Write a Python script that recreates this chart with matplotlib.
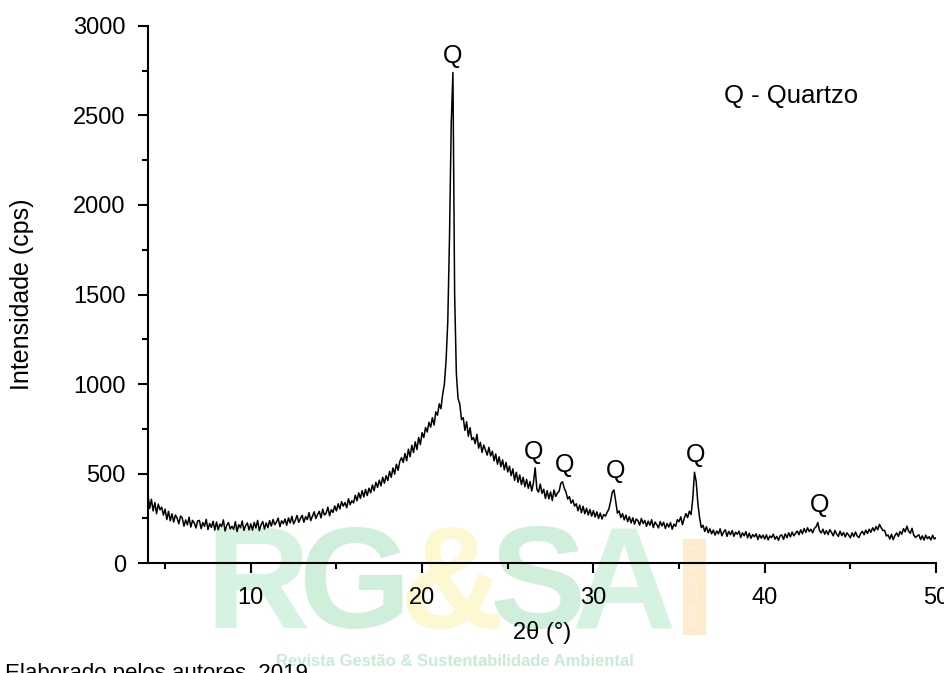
import numpy as np
import matplotlib
matplotlib.use("Agg")
import matplotlib.pyplot as plt
from matplotlib.ticker import MultipleLocator

plt.rcParams['font.family'] = ['Liberation Sans', 'DejaVu Sans']

# XRD intensity, 0.1 deg steps from 4.0 to 50.0
intensity = [
    382, 305, 356, 291, 338, 276, 329, 298, 312, 268,   # 4
    301, 243, 289, 236, 275, 229, 268, 251, 219, 262,   # 5
    252, 206, 241, 213, 256, 201, 238, 224, 196, 235,   # 6
    238, 192, 226, 205, 244, 187, 221, 199, 233, 184,   # 7
    229, 186, 218, 203, 241, 179, 212, 226, 191, 205,   # 8
    188, 231, 176, 214, 197, 235, 182, 209, 224, 185,   # 9
    219, 184, 227, 196, 238, 181, 213, 232, 190, 224,   # 10
    198, 237, 206, 243, 214, 229, 251, 203, 236, 221,   # 11
    246, 211, 252, 224, 261, 219, 238, 266, 227, 249,   # 12
    266, 228, 259, 243, 281, 237, 262, 286, 249, 271,   # 13
    289, 252, 301, 268, 279, 312, 264, 298, 283, 319,   # 14
    291, 331, 302, 343, 318, 338, 309, 359, 326, 348,   # 15
    336, 379, 348, 392, 361, 404, 369, 411, 377, 418,   # 16
    392, 436, 404, 451, 423, 463, 431, 479, 446, 488,   # 17
    461, 512, 479, 531, 497, 552, 518, 568, 589, 562,   # 18
    612, 571, 636, 594, 658, 617, 677, 634, 701, 662,   # 19
    728, 701, 757, 732, 786, 759, 812, 771, 844, 826,   # 20
    889, 862, 941, 998, 1130, 1350, 1820, 2450, 2740, 1500,  # 21
    1060, 918, 889, 801, 812, 741, 789, 708, 756, 689,  # 22
    701, 667, 719, 642, 674, 618, 659, 631, 603, 646,   # 23
    598, 624, 571, 609, 552, 593, 538, 576, 521, 562,   # 24
    509, 541, 488, 526, 462, 507, 451, 492, 438, 479,   # 25
    426, 468, 417, 455, 402, 449, 532, 412, 396, 441,   # 26
    389, 412, 361, 404, 358, 397, 349, 408, 372, 391,   # 27
    401, 446, 454, 418, 396, 358, 371, 334, 352, 318,   # 28
    331, 292, 324, 281, 317, 275, 306, 268, 299, 262,   # 29
    293, 257, 286, 249, 279, 246, 271, 262, 283, 301,   # 30
    342, 395, 408, 346, 279, 291, 254, 276, 241, 268,   # 31
    231, 259, 224, 253, 217, 246, 236, 212, 249, 221,   # 32
    238, 205, 234, 211, 242, 198, 229, 214, 196, 232,   # 33
    207, 228, 193, 221, 201, 226, 189, 217, 205, 242,   # 34
    231, 258, 214, 249, 276, 254, 289, 271, 358, 507,   # 35
    455, 331, 252, 198, 211, 176, 203, 169, 191, 163,   # 36
    184, 156, 179, 163, 191, 152, 173, 186, 149, 177,   # 37
    158, 181, 149, 172, 161, 178, 143, 169, 152, 175,   # 38
    141, 166, 138, 159, 147, 163, 131, 158, 139, 156,   # 39
    134, 158, 129, 151, 142, 161, 133, 149, 127, 153,   # 40
    157, 132, 163, 141, 169, 146, 173, 152, 166, 179,   # 41
    158, 186, 163, 193, 171, 197, 176, 189, 169, 194,   # 42
    203, 226, 181, 168, 189, 161, 181, 159, 186, 171,   # 43
    152, 182, 161, 149, 178, 153, 171, 146, 169, 156,   # 44
    141, 169, 148, 173, 151, 142, 166, 177, 158, 184,   # 45
    165, 189, 172, 197, 179, 204, 186, 216, 197, 181,   # 46
    183, 151, 157, 134, 161, 131, 153, 168, 149, 176,   # 47
    161, 192, 174, 206, 178, 166, 194, 156, 143, 151,   # 48
    158, 131, 152, 128, 156, 136, 147, 129, 155, 134,   # 49
    141,                                                # 50
]
two_theta = np.linspace(4.0, 50.0, len(intensity))

# quartz peak labels
q_pos = [21.8, 26.5, 28.3, 31.3, 35.95, 43.2]
q_height = [2830, 620, 548, 515, 604, 325]

fig = plt.figure(figsize=(9.45, 6.73), dpi=100)
ax = fig.add_axes([0.1566, 0.1634, 0.8339, 0.798])
ax.patch.set_facecolor('none')

# watermark behind the plot
fig.text(0.272, 0.122, 'R', fontsize=104, fontweight='bold', color='#d6f2e1',
         ha='center', va='center', zorder=-2)
fig.text(0.375, 0.122, 'G', fontsize=104, fontweight='bold', color='#cfefdb',
         ha='center', va='center', zorder=-2)
fig.text(0.478, 0.122, '&', fontsize=104, fontweight='bold', color='#fdf8d2',
         ha='center', va='center', zorder=-2)
fig.text(0.569, 0.122, 'S', fontsize=104, fontweight='bold', color='#cfefdb',
         ha='center', va='center', zorder=-2)
fig.text(0.66, 0.122, 'A', fontsize=104, fontweight='bold', color='#d6f2e1',
         ha='center', va='center', zorder=-2)
fig.text(0.735, 0.128, 'ISSN 2238-8753', fontsize=8, fontweight='bold', color='#fbf3e3',
         rotation=90, ha='center', va='center', zorder=-2,
         bbox=dict(facecolor='#fdebcc', edgecolor='none', pad=5))
fig.text(0.481, 0.017, 'Revista Gestão & Sustentabilidade Ambiental', fontsize=12,
         fontweight='bold', color='#c9ebd5', ha='center', va='center', zorder=-2)

ax.plot(two_theta, intensity, color='black', lw=1.1)

for xq, yq in zip(q_pos, q_height):
    ax.text(xq, yq, 'Q', fontsize=18, ha='center', va='center')
ax.text(37.6, 2610, 'Q - Quartzo', fontsize=18.5, ha='left', va='center')

ax.set_xlim(4, 50)
ax.set_ylim(0, 3000)
ax.xaxis.set_major_locator(MultipleLocator(10))
ax.xaxis.set_minor_locator(MultipleLocator(5))
ax.yaxis.set_major_locator(MultipleLocator(500))
ax.yaxis.set_minor_locator(MultipleLocator(250))
ax.tick_params(which='major', direction='out', length=7, width=1.5, labelsize=17)
ax.tick_params(axis='x', which='major', pad=10)
ax.tick_params(axis='y', which='major', pad=9)
ax.tick_params(which='minor', direction='out', length=4, width=1.5)
for side in ['top', 'right']:
    ax.spines[side].set_visible(False)
for side in ['left', 'bottom']:
    ax.spines[side].set_linewidth(1.5)

ax.set_xlabel('2θ (°)', fontsize=17, labelpad=9)
ax.set_ylabel('Intensidade (cps)', fontsize=18, labelpad=28)

fig.text(0.005, -0.009, 'Elaborado pelos autores, 2019', fontsize=16,
         ha='left', va='baseline')

fig.savefig('out.png', dpi=100)
